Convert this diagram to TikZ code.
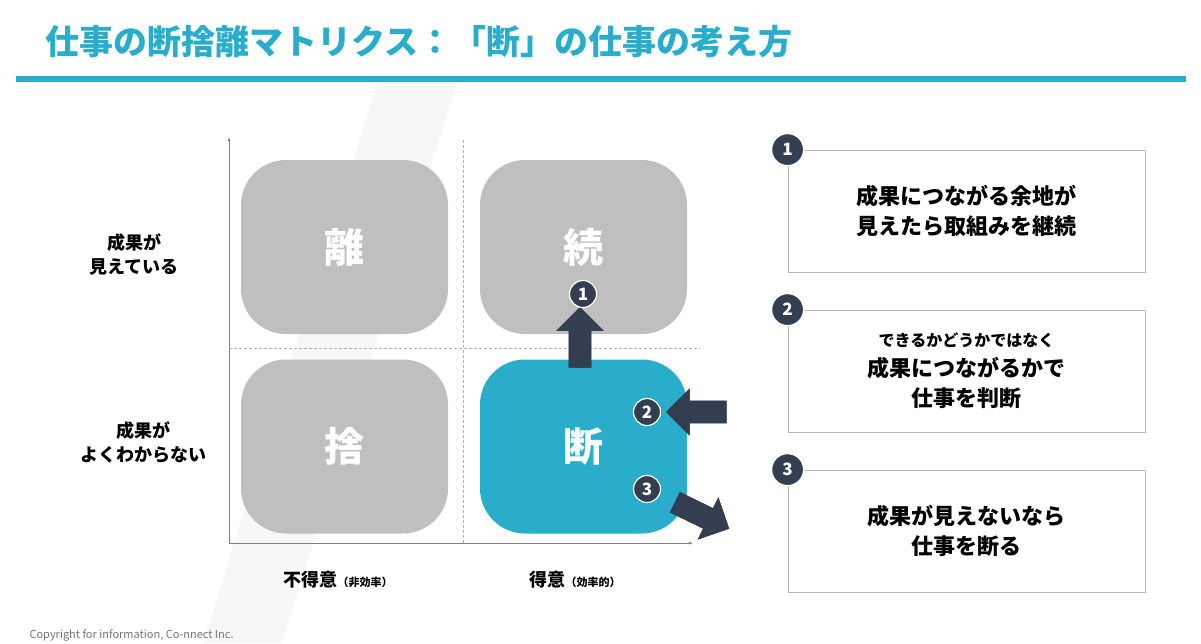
\documentclass[tikz,border=0pt]{standalone}
\usepackage{fontspec}
\setmainfont{Noto Sans CJK JP}
\usetikzlibrary{positioning,shapes.arrows}
\definecolor{teal}{HTML}{2AACCB}
\definecolor{navy}{HTML}{333F50}
\definecolor{tile}{HTML}{BFBFBF}
\tikzset{
  tile/.style={draw=none, fill=tile, rounded corners=45pt, minimum width=207pt, minimum height=174pt, text=white, font=\bfseries\fontsize{40}{40}\selectfont},
  num/.style={circle, fill=navy, draw=white, line width=1.2pt, minimum size=27pt, inner sep=0pt, text=white, font=\bfseries\fontsize{17}{17}\selectfont},
  bigarrow/.style={single arrow, fill=navy, draw=navy!70!black, minimum height=60pt, inner xsep=0pt, inner ysep=11pt, single arrow head extend=12pt},
  panel/.style={draw=gray!55, line width=0.8pt, minimum width=357pt, minimum height=122pt, align=center, font=\bfseries\fontsize{22}{30}\selectfont},
  lbl/.style={align=center, font=\bfseries\fontsize{18}{24}\selectfont}
}
\begin{document}
\begin{tikzpicture}[x=1pt,y=-1pt]
\useasboundingbox (0,0) rectangle (1201,643);
% background band
\fill[gray!6] (378,80) -- (458,80) -- (282,643) -- (203,643) -- cycle;
% title
\node[anchor=west, text=teal, font=\bfseries\fontsize{34}{34}\selectfont] (title) at (42,42) {仕事の断捨離マトリクス：「断」の仕事の考え方};
\draw[teal, line width=6pt] (16,79) -- (1186,79);
% axes
\coordinate (o) at (229,543);
\coordinate (ytop) at (229,137);
\coordinate (xend) at (693,543);
\draw[gray, -latex] (o) -- (ytop);
\draw[gray, -latex] (o) -- (xend);
\draw[gray!60, densely dashed] (463,140) -- (463,543);
\draw[gray!60, densely dashed] (229,348) -- (700,348);
% tiles
\node[tile] (ri) at (344.5,247) {離};
\node[tile] (zoku) at (583.5,247) {続};
\node[tile] (sha) at (344.5,446.5) {捨};
\node[tile, fill=teal] (dan) at (583.5,446.5) {断};
% arrows
\node[bigarrow, rotate=90] (up) at (580,343) {};
\node[bigarrow, rotate=180] (left) at (702,412) {};
\node[bigarrow, rotate=-26] (down) at (697,513) {};
\node[num] (n1) at (583,294) {1};
\node[num] (n2) at (647,412) {2};
\node[num] (n3) at (647,489) {3};
% axis labels
\node[lbl] (good) at (134,255) {成果が\\見えている};
\node[lbl] (bad) at (143,442) {成果が\\よくわからない};
\node[lbl, anchor=west] (weak) at (280,580) {不得意{\fontsize{11}{11}\selectfont（非効率）}};
\node[lbl, anchor=west] (strong) at (526,580) {得意{\fontsize{11}{11}\selectfont（効率的）}};
% panels
\node[panel] (p1) at (966.5,211) {成果につながる余地が\\見えたら取組みを継続};
\node[panel] (p2) at (966.5,371) {{\fontsize{16}{22}\selectfont できるかどうかではなく}\\成果につながるかで\\仕事を判断};
\node[panel] (p3) at (966.5,531) {成果が見えないなら\\仕事を断る};
\node[num, minimum size=32pt] (c1) at (p1.north west) {1};
\node[num, minimum size=32pt] (c2) at (p2.north west) {2};
\node[num, minimum size=32pt] (c3) at (p3.north west) {3};
% footer
\node[anchor=west, text=gray!90!black, font=\fontsize{11}{11}\selectfont] (copy) at (26,635) {Copyright for information, Co-nnect Inc.};
\end{tikzpicture}
\end{document}
